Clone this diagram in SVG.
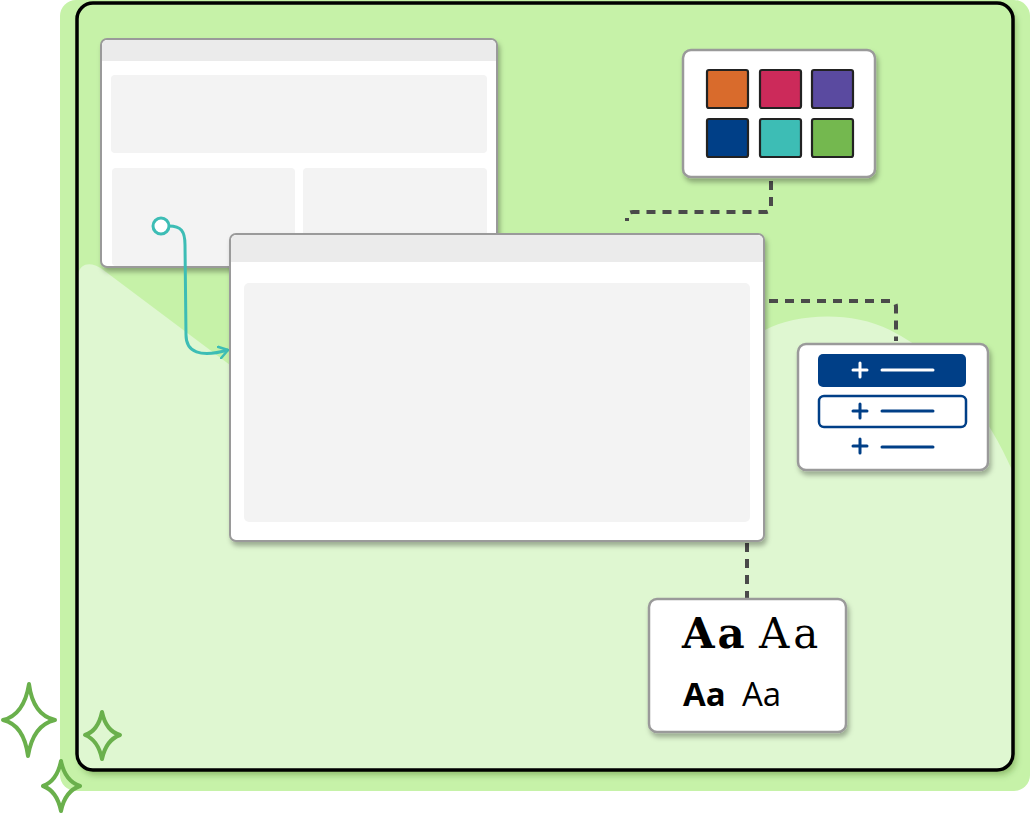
<svg xmlns="http://www.w3.org/2000/svg" width="1030" height="815" viewBox="0 0 1030 815">
<defs>
<filter id="sh" x="-10%" y="-10%" width="130%" height="130%"><feDropShadow dx="2" dy="4" stdDeviation="2.5" flood-color="#000" flood-opacity="0.3"/></filter>
<filter id="fsh" x="-5%" y="-5%" width="110%" height="110%"><feDropShadow dx="3" dy="5" stdDeviation="3" flood-color="#2a5a10" flood-opacity="0.35"/></filter>
<marker id="arr" viewBox="0 0 12 14" refX="10" refY="7" markerWidth="12" markerHeight="14" markerUnits="userSpaceOnUse" orient="auto"><path d="M1,1 L10,7 L1,13" fill="none" stroke="#3dbdb5" stroke-width="2.5" stroke-linecap="round" stroke-linejoin="round"/></marker>
</defs>
<style>
.win{fill:#fff;stroke:#9a9a9a;stroke-width:2}
.bar{fill:#ebebeb}
.pan{fill:#f3f3f3}
.card{fill:#fff;stroke:#9a9a9a;stroke-width:2.5}
.sw{stroke:#222;stroke-width:2.2}
.dash{fill:none;stroke:#4a4a4a;stroke-width:4;stroke-dasharray:9 7}
.star{fill:none;stroke:#6ab04c;stroke-width:4;stroke-linejoin:round}
.navy{stroke:#003f87;stroke-width:3;stroke-linecap:round}
.wht{stroke:#fff;stroke-width:3;stroke-linecap:round}
</style>
<g id="background">
<rect x="60" y="0" width="970" height="791" rx="16" fill="#c6f2a8"/>
<rect x="77" y="3" width="936" height="767" rx="16" fill="#c6f2a8" filter="url(#fsh)"/>
<path d="M78,275 C80,262 92,262 102,269 L250,380 L700,340 L765,330 C795,314 850,310 890,330 C950,360 990,420 1012,470 L1012,755 Q1012,769 998,769 L92,769 Q78,769 78,755 Z" fill="#dff7d1"/>
<rect x="77" y="3" width="936" height="767" rx="16" fill="none" stroke="#000" stroke-width="3.5"/>
</g>
<g id="sparkles">
<path class="star" d="M29,684 Q33,715 55,720 Q33,725 28,756 Q24,725 3,720 Q24,715 29,684 Z"/>
<path class="star" d="M102,712 Q106,731 120,735 Q106,740 102,759 Q98,740 85,735 Q98,731 102,712 Z"/>
<path class="star" d="M61,761 Q65,781 80,786 Q65,791 61,811 Q57,791 43,786 Q57,781 61,761 Z"/>
</g>
<g id="back-window" filter="url(#sh)">
<rect class="win" x="101" y="39" width="396" height="228" rx="6"/>
<path class="bar" d="M102,61 L102,46 Q102,40 108,40 L490,40 Q496,40 496,46 L496,61 Z"/>
<rect class="pan" x="111" y="75" width="376" height="78" rx="4"/>
<rect class="pan" x="112" y="168" width="183" height="98" rx="4"/>
<rect class="pan" x="303" y="168" width="184" height="98" rx="4"/>
</g>
<g id="connectors">
<path d="M169,226 C181,226 185,231 185,245 L186,335 C186,352 200,358 228,350" fill="none" stroke="#3dbdb5" stroke-width="3" marker-end="url(#arr)"/>
<circle cx="161" cy="226" r="8" fill="#fff" stroke="#3dbdb5" stroke-width="3"/>
<path class="dash" d="M771,181 L771,206 Q771,212 765,212 L633,212 Q627,212 627,218 L627,221"/>
<path class="dash" d="M769,301 L890,301 Q896,301 896,307 L896,341"/>
<path class="dash" d="M747,543 L747,598"/>
</g>
<g id="front-window" filter="url(#sh)">
<rect class="win" x="230" y="234" width="534" height="307" rx="6"/>
<path class="bar" d="M231,262 L231,241 Q231,235 237,235 L757,235 Q763,235 763,241 L763,262 Z"/>
<rect class="pan" x="244" y="283" width="506" height="239" rx="5"/>
</g>
<g id="swatch-card">
<rect class="card" x="683" y="50" width="192" height="127" rx="8" filter="url(#sh)"/>
<rect class="sw" x="707" y="70" width="41" height="38" rx="2" fill="#d96b2c"/>
<rect class="sw" x="760" y="70" width="41" height="38" rx="2" fill="#cc2a5a"/>
<rect class="sw" x="812" y="70" width="41" height="38" rx="2" fill="#5a4aa0"/>
<rect class="sw" x="707" y="119" width="41" height="38" rx="2" fill="#003f87"/>
<rect class="sw" x="760" y="119" width="41" height="38" rx="2" fill="#3dbdb5"/>
<rect class="sw" x="812" y="119" width="41" height="38" rx="2" fill="#74b84f"/>
</g>
<g id="list-card">
<rect class="card" x="798" y="344" width="190" height="126" rx="8" filter="url(#sh)"/>
<rect x="818" y="354" width="148" height="33" rx="5" fill="#003f87"/>
<path class="wht" d="M860,363 L860,377 M853,370 L867,370 M882,370 L933,370"/>
<rect x="819" y="396" width="147" height="31" rx="5" fill="#fff" stroke="#003f87" stroke-width="2.5"/>
<path class="navy" d="M860,404 L860,418 M853,411 L867,411 M882,411 L933,411"/>
<path class="navy" d="M860,439 L860,453 M853,446 L867,446 M882,447 L933,447"/>
</g>
<g id="type-card">
<rect class="card" x="649" y="599" width="197" height="133" rx="8" filter="url(#sh)"/>
<text x="682" y="648" font-family="'DejaVu Serif', serif" font-weight="bold" font-size="42" letter-spacing="3" fill="#000">Aa</text>
<text x="759" y="648" font-family="'DejaVu Serif', serif" font-size="42" letter-spacing="4" fill="#000">Aa</text>
<text x="683" y="706" font-family="'Open Sans', sans-serif" font-weight="bold" font-size="33" fill="#000">Aa</text>
<text x="742" y="706" font-family="'Open Sans', sans-serif" font-size="33" fill="#000">Aa</text>
</g>
</svg>
